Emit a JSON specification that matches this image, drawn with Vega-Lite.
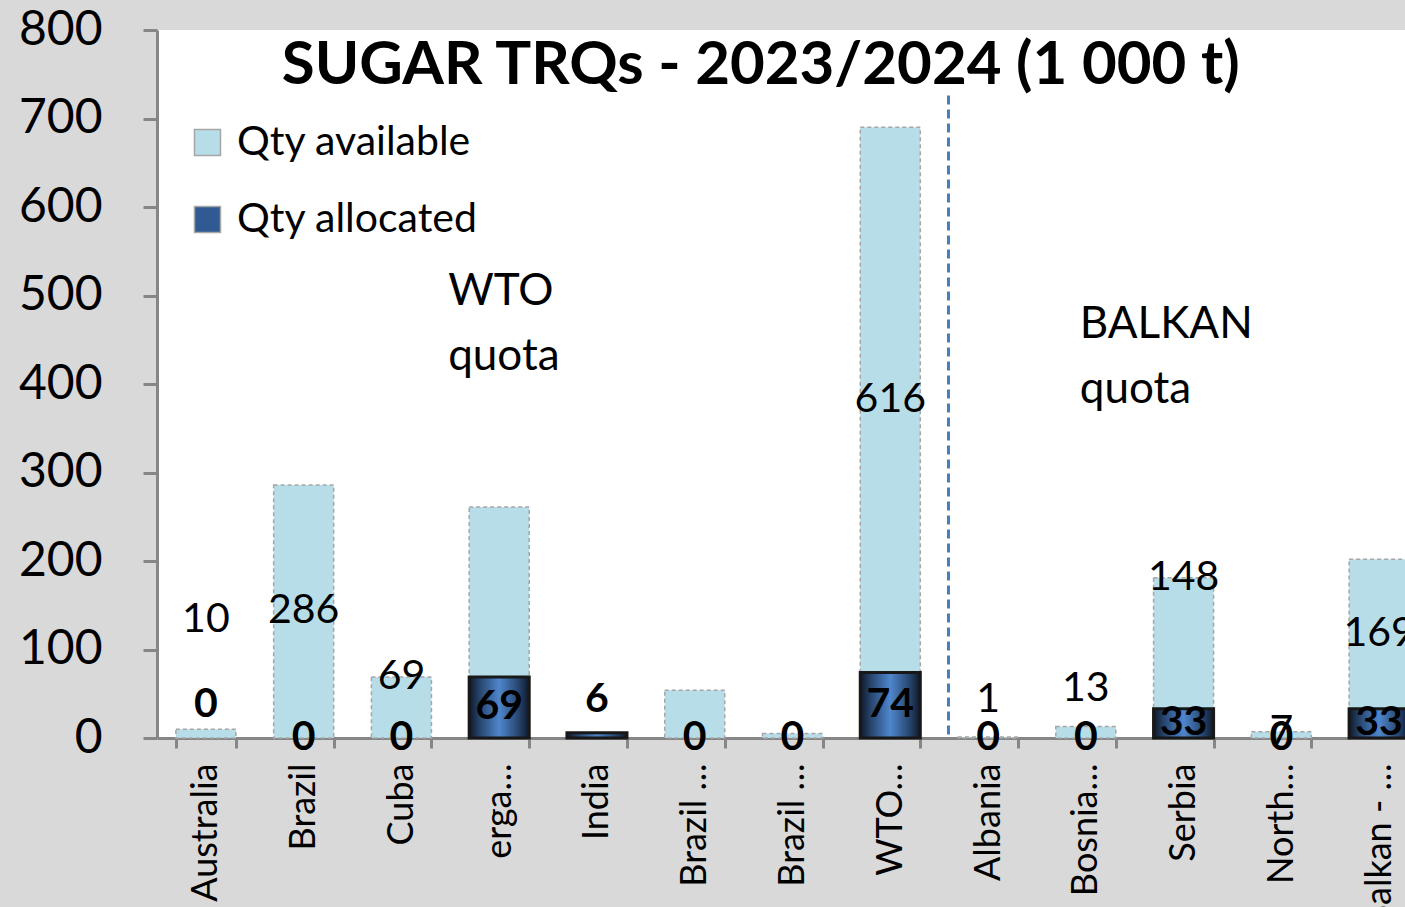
{
  "$schema": "https://vega.github.io/schema/vega-lite/v6.json",
  "width": 1248,
  "height": 708,
  "autosize": {"type": "none"},
  "padding": {"left": 157, "top": 30, "right": 0, "bottom": 169},
  "background": "#d9d9d9",
  "config": {"font": "Lato", "view": {"fill": "white", "stroke": null}},
  "data": {
    "values": [
      {"key": "Australia", "avail": 10, "alloc": 0},
      {"key": "Brazil", "avail": 286, "alloc": 0},
      {"key": "Cuba", "avail": 69, "alloc": 0},
      {"key": "erga omnes", "avail": 192, "alloc": 69},
      {"key": "India", "avail": 0, "alloc": 6},
      {"key": "Brazil (CXL 1)", "avail": 54, "alloc": 0},
      {"key": "Brazil (CXL 2)", "avail": 5, "alloc": 0},
      {"key": "WTO total", "avail": 616, "alloc": 74},
      {"key": "Albania", "avail": 1, "alloc": 0},
      {"key": "Bosnia and Herzegovina", "avail": 13, "alloc": 0},
      {"key": "Serbia", "avail": 148, "alloc": 33},
      {"key": "North Macedonia", "avail": 7, "alloc": 0},
      {"key": "Balkan - total", "avail": 169, "alloc": 33}
    ]
  },
  "transform": [
    {"fold": ["alloc", "avail"], "as": ["series", "value"]},
    {"stack": "value", "groupby": ["key"], "sort": [{"field": "series", "order": "ascending"}], "as": ["v0", "v1"]}
  ],
  "layer": [
    {
      "transform": [{"filter": {"and": [{"field": "value", "gt": 0}, {"field": "series", "equal": "avail"}]}}],
      "mark": {"type": "bar", "stroke": "#a6a6a6", "strokeWidth": 1.5, "strokeDash": [4, 3]},
      "encoding": {
        "x": {
          "field": "key",
          "type": "nominal",
          "title": null,
          "scale": {
            "type": "band",
            "domain": ["Australia", "Brazil", "Cuba", "erga omnes", "India", "Brazil (CXL 1)", "Brazil (CXL 2)", "WTO total", "Albania", "Bosnia and Herzegovina", "Serbia", "North Macedonia", "Balkan - total"],
            "range": [0, 1271],
            "paddingInner": 0.386,
            "paddingOuter": 0.193
          },
          "axis": {
            "domainColor": "#868686",
            "domainWidth": 3,
            "tickColor": "#868686",
            "tickWidth": 3,
            "tickSize": 10,
            "tickBand": "extent",
            "labelAngle": 270,
            "labelAlign": "right",
            "labelBaseline": "middle",
            "labelFontSize": 36,
            "labelColor": "black",
            "labelPadding": 15,
            "labelLimit": 0,
            "labelExpr": "datum.value == 'erga omnes' ? 'erga…' : (datum.value == 'Brazil (CXL 1)' || datum.value == 'Brazil (CXL 2)') ? 'Brazil …' : datum.value == 'WTO total' ? 'WTO…' : datum.value == 'Bosnia and Herzegovina' ? 'Bosnia…' : datum.value == 'North Macedonia' ? 'North…' : datum.value == 'Balkan - total' ? 'Balkan - …' : datum.label"
          }
        },
        "y": {
          "field": "v1",
          "type": "quantitative",
          "title": null,
          "scale": {"domain": [0, 800], "nice": false},
          "axis": {
            "tickCount": 8,
            "grid": false,
            "domainColor": "#868686",
            "domainWidth": 3,
            "tickColor": "#868686",
            "tickWidth": 3,
            "tickSize": 14,
            "labelFontSize": 48,
            "labelColor": "black",
            "labelPadding": 41
          }
        },
        "y2": {"field": "v0"},
        "color": {
          "field": "series",
          "type": "nominal",
          "title": null,
          "scale": {"domain": ["avail", "alloc"], "range": ["#b7dde8", "#2f5a94"]},
          "legend": {
            "orient": "none",
            "legendX": 30,
            "legendY": 92,
            "padding": 0,
            "symbolType": "square",
            "symbolSize": 676,
            "symbolStrokeWidth": 1.5,
            "labelFontSize": 41,
            "labelColor": "black",
            "labelOffset": 9,
            "rowPadding": 35,
            "labelLimit": 500,
            "labelExpr": "datum.value == 'avail' ? 'Qty available' : 'Qty allocated'"
          }
        }
      }
    },
    {
      "transform": [{"filter": {"and": [{"field": "value", "gt": 0}, {"field": "series", "equal": "alloc"}]}}],
      "mark": {
        "type": "bar",
        "stroke": "#181818",
        "strokeWidth": 3,
        "fill": {
          "gradient": "linear",
          "x1": 0, "y1": 0, "x2": 1, "y2": 0,
          "stops": [
            {"offset": 0, "color": "#0f1828"},
            {"offset": 0.18, "color": "#27466f"},
            {"offset": 0.5, "color": "#4f86cc"},
            {"offset": 0.82, "color": "#27466f"},
            {"offset": 1, "color": "#0f1828"}
          ]
        }
      },
      "encoding": {
        "x": {"field": "key", "type": "nominal"},
        "y": {"field": "v1", "type": "quantitative"},
        "y2": {"field": "v0"}
      }
    },
    {
      "transform": [{"filter": {"and": [{"field": "key", "equal": "Australia"}, {"field": "series", "equal": "alloc"}]}}],
      "mark": {"type": "rule", "color": "#4a7ebb", "strokeWidth": 3, "strokeDash": [9, 5]},
      "encoding": {
        "x": {"datum": "WTO total", "type": "nominal", "bandPosition": 1.47},
        "y": {"datum": 726, "type": "quantitative"},
        "y2": {"datum": 0}
      }
    },
    {
      "transform": [
        {"filter": {"and": [{"field": "series", "equal": "avail"}, {"field": "key", "oneOf": ["Brazil", "WTO total", "Balkan - total"]}]}},
        {"fold": ["v0", "v1"], "as": ["end", "pos"]},
        {"aggregate": [{"op": "mean", "field": "pos", "as": "mid"}], "groupby": ["key", "value"]}
      ],
      "mark": {"type": "text", "fontSize": 41, "color": "black", "baseline": "middle"},
      "encoding": {
        "x": {"field": "key", "type": "nominal"},
        "y": {"field": "mid", "type": "quantitative"},
        "text": {"field": "value", "type": "quantitative"}
      }
    },
    {
      "transform": [{"filter": {"and": [{"field": "series", "equal": "avail"}, {"field": "key", "oneOf": ["Cuba", "Serbia", "North Macedonia"]}]}}],
      "mark": {"type": "text", "fontSize": 41, "color": "black", "baseline": "middle"},
      "encoding": {
        "x": {"field": "key", "type": "nominal"},
        "y": {"field": "v1", "type": "quantitative"},
        "text": {"field": "value", "type": "quantitative"}
      }
    },
    {
      "transform": [{"filter": {"and": [{"field": "series", "equal": "avail"}, {"field": "key", "oneOf": ["Albania", "Bosnia and Herzegovina"]}]}}],
      "mark": {"type": "text", "fontSize": 41, "color": "black", "baseline": "bottom", "dy": -16},
      "encoding": {
        "x": {"field": "key", "type": "nominal"},
        "y": {"field": "v1", "type": "quantitative"},
        "text": {"field": "value", "type": "quantitative"}
      }
    },
    {
      "transform": [{"filter": {"and": [{"field": "series", "equal": "avail"}, {"field": "key", "equal": "Australia"}]}}],
      "mark": {"type": "text", "fontSize": 41, "color": "black", "baseline": "bottom", "dy": -88},
      "encoding": {
        "x": {"field": "key", "type": "nominal"},
        "y": {"field": "v1", "type": "quantitative"},
        "text": {"field": "value", "type": "quantitative"}
      }
    },
    {
      "transform": [
        {"filter": {"and": [{"field": "series", "equal": "alloc"}, {"not": {"field": "key", "oneOf": ["India", "Australia"]}}]}},
        {"fold": ["v0", "v1"], "as": ["end", "pos"]},
        {"aggregate": [{"op": "mean", "field": "pos", "as": "mid"}], "groupby": ["key", "value"]}
      ],
      "mark": {"type": "text", "fontSize": 41, "fontWeight": "bold", "color": "black", "baseline": "middle"},
      "encoding": {
        "x": {"field": "key", "type": "nominal"},
        "y": {"field": "mid", "type": "quantitative"},
        "text": {"field": "value", "type": "quantitative"}
      }
    },
    {
      "transform": [{"filter": {"and": [{"field": "series", "equal": "alloc"}, {"field": "key", "oneOf": ["India", "Australia"]}]}}],
      "mark": {"type": "text", "fontSize": 41, "fontWeight": "bold", "color": "black", "baseline": "bottom", "dy": -12},
      "encoding": {
        "x": {"field": "key", "type": "nominal"},
        "y": {"field": "v1", "type": "quantitative"},
        "text": {"field": "value", "type": "quantitative"}
      }
    },
    {
      "transform": [{"filter": {"and": [{"field": "key", "equal": "Australia"}, {"field": "series", "equal": "alloc"}]}}],
      "mark": {"type": "text", "fontSize": 44, "color": "black", "align": "left", "baseline": "alphabetic", "lineHeight": 65, "dx": -21},
      "encoding": {
        "x": {"datum": "erga omnes", "type": "nominal", "bandPosition": 0},
        "y": {"datum": 489, "type": "quantitative"},
        "text": {"value": ["WTO", "quota"]}
      }
    },
    {
      "transform": [{"filter": {"and": [{"field": "key", "equal": "Australia"}, {"field": "series", "equal": "alloc"}]}}],
      "mark": {"type": "text", "fontSize": 44, "color": "black", "align": "left", "baseline": "alphabetic", "lineHeight": 65},
      "encoding": {
        "x": {"datum": "Bosnia and Herzegovina", "type": "nominal", "bandPosition": 0.4},
        "y": {"datum": 452, "type": "quantitative"},
        "text": {"value": ["BALKAN", "quota"]}
      }
    },
    {
      "transform": [{"filter": {"and": [{"field": "key", "equal": "Australia"}, {"field": "series", "equal": "alloc"}]}}],
      "mark": {"type": "text", "fontSize": 60, "fontWeight": "bold", "color": "black", "align": "center", "baseline": "alphabetic", "dx": 66},
      "encoding": {
        "x": {"datum": "Brazil (CXL 1)", "type": "nominal", "bandPosition": 0.5},
        "y": {"datum": 739, "type": "quantitative"},
        "text": {"value": "SUGAR TRQs - 2023/2024 (1 000 t)"}
      }
    }
  ]
}
